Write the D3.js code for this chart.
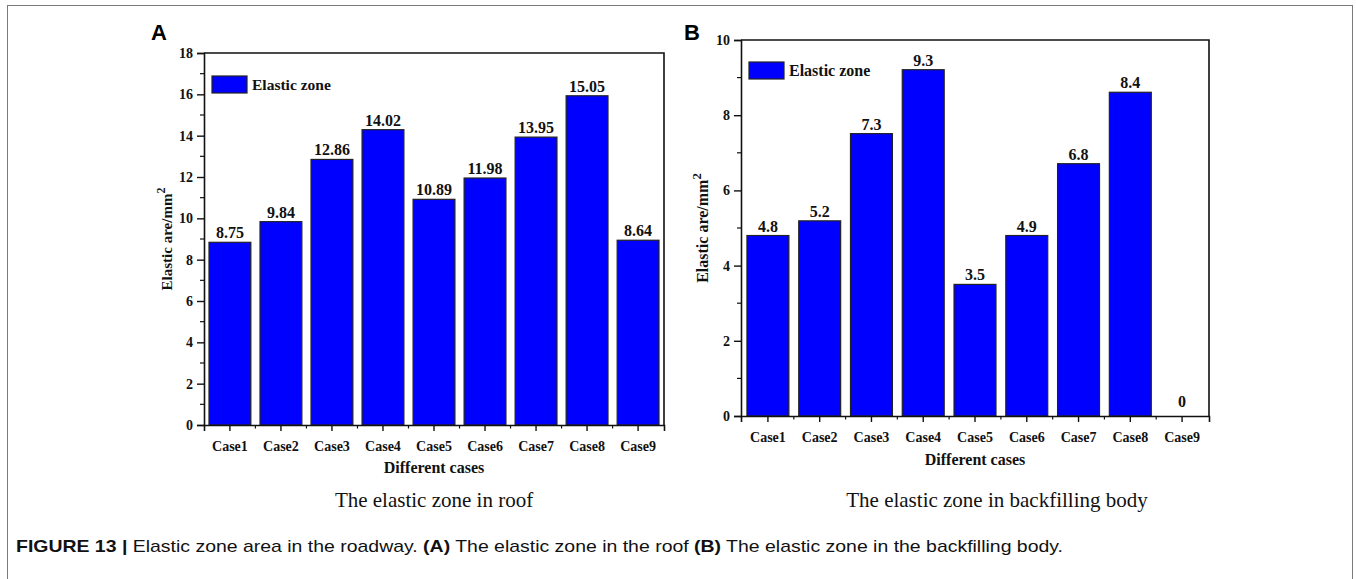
<!DOCTYPE html>
<html>
<head>
<meta charset="utf-8">
<script src="https://cdn.jsdelivr.net/npm/d3@7"></script>
<style>
  html, body { margin: 0; padding: 0; background: #fff; }
  svg { display: block; }
</style>
</head>
<body>
<svg id="chart" width="1356" height="579"></svg>
<script>
// ---- data ----
const categories = ["Case1", "Case2", "Case3", "Case4", "Case5", "Case6", "Case7", "Case8", "Case9"];
// bar heights as drawn
const roofValues = [8.84, 9.84, 12.85, 14.29, 10.92, 11.95, 13.93, 15.93, 8.94];
const roofLabels = ["8.75", "9.84", "12.86", "14.02", "10.89", "11.98", "13.95", "15.05", "8.64"];
const backfillValues = [4.80, 5.19, 7.51, 9.21, 3.50, 4.80, 6.71, 8.61, 0];
const backfillLabels = ["4.8", "5.2", "7.3", "9.3", "3.5", "4.9", "6.8", "8.4", "0"];
const roofTicks = [0, 2, 4, 6, 8, 10, 12, 14, 16, 18];
const backfillTicks = [0, 2, 4, 6, 8, 10];
const legendLabel = "Elastic zone";
const xTitle = "Different cases";
const yTitle = "Elastic are/mm";

const svg = d3.select("#chart");
const SERIF = "'Liberation Serif','Times New Roman',serif";
const SANS = "'Liberation Sans',Arial,Helvetica,sans-serif";

// outer frame
svg.append("rect").attr("x", 7.5).attr("y", 5.5).attr("width", 1345).attr("height", 600)
  .attr("fill", "none").attr("stroke", "#7a7a7a").attr("stroke-width", 1);

function panel(cfg) {
  const g = svg.append("g");
  const x = d3.scaleBand().domain(categories).range([cfg.left, cfg.right])
    .paddingInner(cfg.pIn).paddingOuter(cfg.pOut);
  const y = d3.scaleLinear().domain([0, cfg.ymax]).range([cfg.bottom, cfg.top]);

  // bars
  g.selectAll("rect.bar").data(cfg.values).enter().append("rect")
    .attr("class", "bar")
    .attr("x", (d, i) => x(categories[i]))
    .attr("width", x.bandwidth())
    .attr("y", d => y(d))
    .attr("height", d => y(0) - y(d))
    .attr("fill", "#0000ff")
    .attr("stroke", d => d > 0 ? "#222" : "none")
    .attr("stroke-width", 1.2);

  // value labels
  g.selectAll("text.val").data(cfg.values).enter().append("text")
    .attr("x", (d, i) => x(categories[i]) + x.bandwidth() / 2)
    .attr("y", (d, i) => y(d) - (d > 0 ? 4 : 9))
    .attr("text-anchor", "middle")
    .attr("font-family", SERIF).attr("font-weight", "bold").attr("font-size", cfg.valSize)
    .attr("fill", "#111")
    .text((d, i) => cfg.labels[i]);

  // frame (top and right)
  g.append("path")
    .attr("d", `M${cfg.left},${cfg.top}H${cfg.right}V${cfg.bottom}`)
    .attr("fill", "none").attr("stroke", "#111").attr("stroke-width", 1.6);

  // y axis
  const yAxis = d3.axisLeft(y).tickValues(cfg.ticks).tickSize(7).tickPadding(4).tickFormat(d3.format("d"));
  const ya = g.append("g").attr("transform", `translate(${cfg.left},0)`).call(yAxis);
  ya.select(".domain").attr("stroke", "#111").attr("stroke-width", 1.6);
  ya.selectAll(".tick line").attr("stroke", "#111").attr("stroke-width", 1.4);
  ya.selectAll(".tick text").attr("font-family", SERIF).attr("font-weight", "bold")
    .attr("font-size", cfg.tickSize).attr("fill", "#111");
  // minor y ticks
  const minor = [];
  for (let i = 0; i < cfg.ticks.length - 1; i++) minor.push((cfg.ticks[i] + cfg.ticks[i + 1]) / 2);
  g.selectAll("line.ymin").data(minor).enter().append("line")
    .attr("x1", cfg.left - 4).attr("x2", cfg.left)
    .attr("y1", d => y(d)).attr("y2", d => y(d))
    .attr("stroke", "#111").attr("stroke-width", 1.2);

  // x axis
  const xAxis = d3.axisBottom(x).tickSize(6).tickPadding(cfg.xPad);
  const xa = g.append("g").attr("transform", `translate(0,${cfg.bottom})`).call(xAxis);
  xa.select(".domain").attr("stroke", "#111").attr("stroke-width", 1.6);
  xa.selectAll(".tick line").attr("stroke", "#111").attr("stroke-width", 1.4);
  xa.selectAll(".tick text").attr("font-family", SERIF).attr("font-weight", "bold")
    .attr("font-size", cfg.tickSize).attr("fill", "#111");
  // minor x ticks at band boundaries
  const step = x.step();
  const bounds = categories.slice(0, -1).map(c => x(c) + x.bandwidth() / 2 + step / 2);
  g.selectAll("line.xmin").data(bounds).enter().append("line")
    .attr("x1", d => d).attr("x2", d => d)
    .attr("y1", cfg.bottom).attr("y2", cfg.bottom + 3.5)
    .attr("stroke", "#111").attr("stroke-width", 1.2);

  // x title
  g.append("text").attr("x", (cfg.left + cfg.right) / 2).attr("y", cfg.bottom + cfg.xTitleOff)
    .attr("text-anchor", "middle").attr("font-family", SERIF).attr("font-weight", "bold")
    .attr("font-size", 16).attr("fill", "#111").text(xTitle);

  // y title
  const yt = g.append("text")
    .attr("transform", `translate(${cfg.yTitleX},${(cfg.top + cfg.bottom) / 2}) rotate(-90)`)
    .attr("text-anchor", "middle").attr("font-family", SERIF).attr("font-weight", "bold")
    .attr("font-size", cfg.yTitleSize).attr("fill", "#111");
  yt.append("tspan").text(yTitle);
  yt.append("tspan").attr("dy", -7).attr("font-size", cfg.yTitleSize * 0.8).text("2");

  // legend
  g.append("rect").attr("x", cfg.legX).attr("y", cfg.legY).attr("width", 35).attr("height", 17)
    .attr("fill", "#0000ff").attr("stroke", "#222").attr("stroke-width", 1.2);
  g.append("text").attr("x", cfg.legX + 40).attr("y", cfg.legY + 13.5)
    .attr("font-family", SERIF).attr("font-weight", "bold").attr("font-size", cfg.legSize)
    .attr("fill", "#111").text(legendLabel);

  // panel letter
  g.append("text").attr("x", cfg.letterX).attr("y", 40)
    .attr("font-family", SANS).attr("font-weight", "bold").attr("font-size", 22)
    .attr("fill", "#000").text(cfg.letter);

  // subtitle
  g.append("text").attr("x", cfg.subX).attr("y", 507)
    .attr("text-anchor", "middle").attr("font-family", SERIF)
    .attr("font-size", 21).attr("fill", "#111").text(cfg.subtitle);
}

panel({
  left: 204, right: 664, top: 53, bottom: 425, ymax: 18, pIn: 0.18, pOut: 0.098,
  values: roofValues, labels: roofLabels, ticks: roofTicks,
  valSize: 16, tickSize: 14, xPad: 10, xTitleOff: 48, yTitleX: 172, yTitleSize: 15,
  legX: 212, legY: 76, legSize: 15.5, letter: "A", letterX: 151,
  subtitle: "The elastic zone in roof", subX: 434
});
panel({
  left: 741, right: 1209, top: 40, bottom: 416, ymax: 10, pIn: 0.19, pOut: 0.115,
  values: backfillValues, labels: backfillLabels, ticks: backfillTicks,
  valSize: 16, tickSize: 14, xPad: 10, xTitleOff: 49, yTitleX: 708, yTitleSize: 16,
  legX: 749, legY: 62, legSize: 16, letter: "B", letterX: 684,
  subtitle: "The elastic zone in backfilling body", subX: 997
});

// caption
const cap = svg.append("text").attr("x", 16).attr("y", 552)
  .attr("font-family", SANS).attr("font-size", 17).attr("fill", "#111")
  .attr("textLength", 1047).attr("lengthAdjust", "spacingAndGlyphs");
cap.append("tspan").attr("font-weight", "bold").text("FIGURE 13 | ");
cap.append("tspan").text("Elastic zone area in the roadway. ");
cap.append("tspan").attr("font-weight", "bold").text("(A)");
cap.append("tspan").text(" The elastic zone in the roof ");
cap.append("tspan").attr("font-weight", "bold").text("(B)");
cap.append("tspan").text(" The elastic zone in the backfilling body.");
</script>
</body>
</html>
